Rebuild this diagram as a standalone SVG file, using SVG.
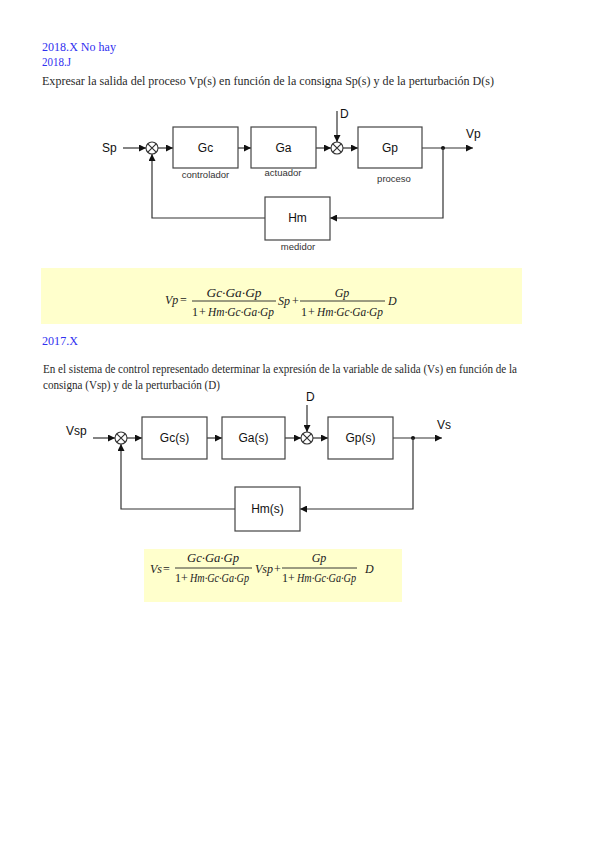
<svg xmlns="http://www.w3.org/2000/svg" width="599" height="848" viewBox="0 0 599 848">
<style>
.head{font-family:"Liberation Serif",serif;font-size:13px;fill:#3030f0}
.para{font-family:"Liberation Serif",serif;font-size:12px;fill:#2a2a2a}
.lbl{font-family:"Liberation Sans",Arial,sans-serif;font-size:12px;fill:#111}
.sub{font-family:"Liberation Sans",Arial,sans-serif;font-size:9.5px;fill:#333}
.box{fill:#fff;stroke:#444;stroke-width:1.2}
.ln{fill:none;stroke:#333;stroke-width:1.2}
.sum{fill:#fff;stroke:#333;stroke-width:1.1}
.eq{font-family:"Liberation Serif",serif;font-size:12px;fill:#222}
.it{font-style:italic}
.bg{fill:#ffffcc}
</style>
<defs>
<marker id="ah" viewBox="0 0 10 10" refX="10" refY="5" markerWidth="8" markerHeight="7" markerUnits="userSpaceOnUse" orient="auto">
<path d="M0,0 L10,5 L0,10 z" fill="#111"/>
</marker>
<g id="sumj">
<circle r="6" class="sum"/>
<path d="M-4.2,-4.2 L4.2,4.2 M-4.2,4.2 L4.2,-4.2" class="ln" stroke-width="1"/>
</g>
</defs>

<rect width="599" height="848" fill="#fff"/>

<!-- headings / text -->
<text class="head" x="42" y="51" textLength="74" lengthAdjust="spacingAndGlyphs">2018.X No hay</text>
<text class="head" x="42" y="66" textLength="29" lengthAdjust="spacingAndGlyphs">2018.J</text>
<text class="para" x="42" y="85" textLength="452" lengthAdjust="spacingAndGlyphs">Expresar la salida del proceso Vp(s) en función de la consigna Sp(s) y de la perturbación D(s)</text>

<!-- Diagram 1 -->
<g id="connectors1">
<line x1="123" y1="148" x2="146" y2="148" class="ln" marker-end="url(#ah)"/>
<line x1="158" y1="148" x2="173" y2="148" class="ln" marker-end="url(#ah)"/>
<line x1="238" y1="148" x2="251" y2="148" class="ln" marker-end="url(#ah)"/>
<line x1="316" y1="148" x2="331" y2="148" class="ln" marker-end="url(#ah)"/>
<line x1="337" y1="111" x2="337" y2="142" class="ln" marker-end="url(#ah)"/>
<line x1="343" y1="148" x2="358" y2="148" class="ln" marker-end="url(#ah)"/>
<line x1="422" y1="148" x2="473" y2="148" class="ln" marker-end="url(#ah)"/>
<circle cx="443" cy="148" r="2" fill="#111"/>
<polyline points="443,148 443,218 330,218" class="ln" marker-end="url(#ah)"/>
<polyline points="265,218 152,218 152,154" class="ln" marker-end="url(#ah)"/>
</g>
<g id="sp_label"><text class="lbl" x="102" y="152">Sp</text></g>
<g id="d_label1"><text class="lbl" x="340" y="118">D</text></g>
<g id="vp_label"><text class="lbl" x="466" y="138">Vp</text></g>
<g id="sum1"><use href="#sumj" x="152" y="148"/></g>
<g id="sum2"><use href="#sumj" x="337" y="148"/></g>
<g id="gc">
<rect x="173" y="127" width="65" height="41" class="box"/>
<text class="lbl" x="205.5" y="152" text-anchor="middle">Gc</text>
<text class="sub" x="205.5" y="178" text-anchor="middle">controlador</text>
</g>
<g id="ga">
<rect x="251" y="127" width="65" height="41" class="box"/>
<text class="lbl" x="283.5" y="152" text-anchor="middle">Ga</text>
<text class="sub" x="283" y="176" text-anchor="middle">actuador</text>
</g>
<g id="gp">
<rect x="358" y="127" width="64" height="41" class="box"/>
<text class="lbl" x="390" y="152" text-anchor="middle">Gp</text>
<text class="sub" x="394" y="182" text-anchor="middle">proceso</text>
</g>
<g id="hm">
<rect x="265" y="197" width="65" height="43" class="box"/>
<text class="lbl" x="297.5" y="222" text-anchor="middle">Hm</text>
<text class="sub" x="298" y="250" text-anchor="middle">medidor</text>
</g>

<!-- Equation 1 -->
<g id="eq1">
<rect x="41" y="268" width="481" height="56" class="bg"/>
<text class="eq it" x="165" y="304">Vp</text>
<text class="eq" x="180" y="304">=</text>
<text class="eq it" x="234" y="297" text-anchor="middle" textLength="55" lengthAdjust="spacingAndGlyphs">Gc·Ga·Gp</text>
<line x1="192" y1="301" x2="276" y2="301" stroke="#222" stroke-width="0.9"/>
<text class="eq" x="192" y="316">1</text>
<text class="eq" x="199" y="316" font-size="14">+</text>
<text class="eq it" x="208" y="316" textLength="66" lengthAdjust="spacingAndGlyphs">Hm·Gc·Ga·Gp</text>
<text class="eq it" x="278" y="305">Sp</text>
<text class="eq" x="292" y="305" font-size="15">+</text>
<text class="eq it" x="342" y="297" text-anchor="middle">Gp</text>
<line x1="300" y1="301" x2="385" y2="301" stroke="#222" stroke-width="0.9"/>
<text class="eq" x="301" y="316">1</text>
<text class="eq" x="308" y="316" font-size="14">+</text>
<text class="eq it" x="317" y="316" textLength="66" lengthAdjust="spacingAndGlyphs">Hm·Gc·Ga·Gp</text>
<text class="eq it" x="388" y="305">D</text>
</g>

<!-- Section 2 text -->
<text class="head" x="42" y="345" textLength="36" lengthAdjust="spacingAndGlyphs">2017.X</text>
<text class="para" x="43" y="373" textLength="474" lengthAdjust="spacingAndGlyphs">En el sistema de control representado determinar la expresión de la variable de salida (Vs) en función de la</text>
<text class="para" x="43" y="389" textLength="177" lengthAdjust="spacingAndGlyphs">consigna (Vsp) y de la perturbación (D)</text>

<!-- Diagram 2 -->
<g id="connectors2">
<line x1="93" y1="438" x2="115" y2="438" class="ln" marker-end="url(#ah)"/>
<line x1="127" y1="438" x2="142" y2="438" class="ln" marker-end="url(#ah)"/>
<line x1="207" y1="438" x2="222" y2="438" class="ln" marker-end="url(#ah)"/>
<line x1="285" y1="438" x2="301" y2="438" class="ln" marker-end="url(#ah)"/>
<line x1="307" y1="405" x2="307" y2="432" class="ln" marker-end="url(#ah)"/>
<line x1="313" y1="438" x2="328" y2="438" class="ln" marker-end="url(#ah)"/>
<line x1="393" y1="438" x2="442" y2="438" class="ln" marker-end="url(#ah)"/>
<circle cx="413" cy="438" r="2" fill="#111"/>
<polyline points="413,438 413,509 300,509" class="ln" marker-end="url(#ah)"/>
<polyline points="235,509 121,509 121,444" class="ln" marker-end="url(#ah)"/>
</g>
<g id="vsp_label"><text class="lbl" x="66" y="435">Vsp</text></g>
<g id="d_label2"><text class="lbl" x="306" y="401">D</text></g>
<g id="vs_label"><text class="lbl" x="437" y="429">Vs</text></g>
<g id="sum3"><use href="#sumj" x="121" y="438"/></g>
<g id="sum4"><use href="#sumj" x="307" y="438"/></g>
<g id="gcs">
<rect x="142" y="417" width="65" height="42" class="box"/>
<text class="lbl" x="174.5" y="442" text-anchor="middle">Gc(s)</text>
</g>
<g id="gas">
<rect x="222" y="417" width="63" height="42" class="box"/>
<text class="lbl" x="253.5" y="442" text-anchor="middle">Ga(s)</text>
</g>
<g id="gps">
<rect x="328" y="417" width="65" height="42" class="box"/>
<text class="lbl" x="360.5" y="442" text-anchor="middle">Gp(s)</text>
</g>
<g id="hms">
<rect x="235" y="487" width="65" height="44" class="box"/>
<text class="lbl" x="267.5" y="513" text-anchor="middle">Hm(s)</text>
</g>

<!-- Equation 2 -->
<g id="eq2">
<rect x="144" y="549" width="258" height="53" class="bg"/>
<text class="eq it" x="150" y="573">Vs</text>
<text class="eq" x="163" y="573">=</text>
<text class="eq it" x="213" y="562" text-anchor="middle" textLength="52" lengthAdjust="spacingAndGlyphs">Gc·Ga·Gp</text>
<line x1="175" y1="568" x2="252" y2="568" stroke="#222" stroke-width="0.9"/>
<text class="eq" x="175" y="582">1</text>
<text class="eq" x="181" y="582" font-size="14">+</text>
<text class="eq it" x="190" y="582" font-size="10" textLength="59" lengthAdjust="spacingAndGlyphs">Hm·Gc·Ga·Gp</text>
<text class="eq it" x="255" y="573">Vsp</text>
<text class="eq" x="274" y="573" font-size="15">+</text>
<text class="eq it" x="319" y="562" text-anchor="middle">Gp</text>
<line x1="282" y1="568" x2="357" y2="568" stroke="#222" stroke-width="0.9"/>
<text class="eq" x="282" y="582">1</text>
<text class="eq" x="288" y="582" font-size="14">+</text>
<text class="eq it" x="297" y="582" font-size="10" textLength="59" lengthAdjust="spacingAndGlyphs">Hm·Gc·Ga·Gp</text>
<text class="eq it" x="365" y="573">D</text>
</g>
</svg>
